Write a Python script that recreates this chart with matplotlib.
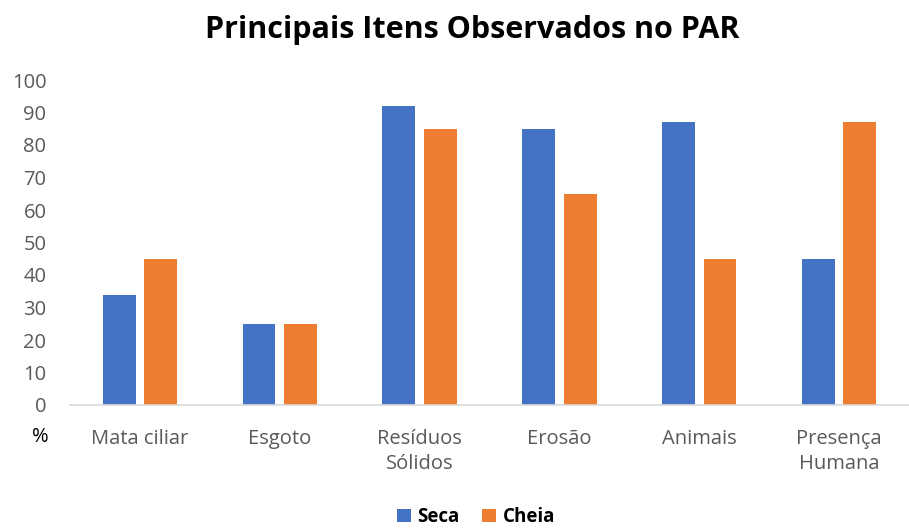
import matplotlib

matplotlib.use('Agg')
import matplotlib.pyplot as plt
import numpy as np

categories = ["Mata ciliar", "Esgoto", "Resíduos\nSólidos", "Erosão", "Animais", "Presença\nHumana"]
seca = [34, 25, 92, 85, 87, 45]
cheia = [45, 25, 85, 65, 45, 87]

plt.rcParams['font.family'] = ['Open Sans', 'DejaVu Sans']

fig = plt.figure(figsize=(9.09, 5.29), dpi=100)
ax = fig.add_axes([70 / 909, 1 - 405 / 529, 1 - 70 / 909, (405 - 80) / 529])

x = np.arange(len(categories))
w = 0.235
ax.bar(x - 0.148, seca, w, color='#4472C4', label='Seca')
ax.bar(x + 0.148, cheia, w, color='#ED7D31', label='Cheia')

ax.set_xlim(-0.5, len(categories) - 0.5)
ax.set_ylim(0, 100)
ax.set_yticks(range(0, 101, 10))
ax.set_xticks(x)
ax.set_xticklabels(categories, linespacing=1.35)
ax.tick_params(axis='both', length=0, labelsize=14.5, colors='#595959', labelcolor='#595959')
ax.tick_params(axis='x', pad=17)
ax.tick_params(axis='y', pad=17)
for s in ['top', 'right', 'left']:
    ax.spines[s].set_visible(False)
ax.spines['bottom'].set_color('#D9D9D9')
ax.spines['bottom'].set_linewidth(1.2)

fig.text(40 / 909, 1 - 437 / 529, '%', fontsize=14.5, color='#000000', ha='center', va='center')
fig.text(472 / 909, 1 - 30 / 529, 'Principais Itens Observados no PAR', fontsize=22,
         fontweight='bold', ha='center', va='center')

leg = fig.legend(loc='center', bbox_to_anchor=(476 / 909, 1 - 517 / 529), ncol=2, frameon=False,
                 fontsize=13.5, handlelength=0.75, handleheight=0.75, columnspacing=1.2, handletextpad=0.35)
for t in leg.get_texts():
    t.set_fontweight('bold')

plt.savefig('out.png', dpi=100)
